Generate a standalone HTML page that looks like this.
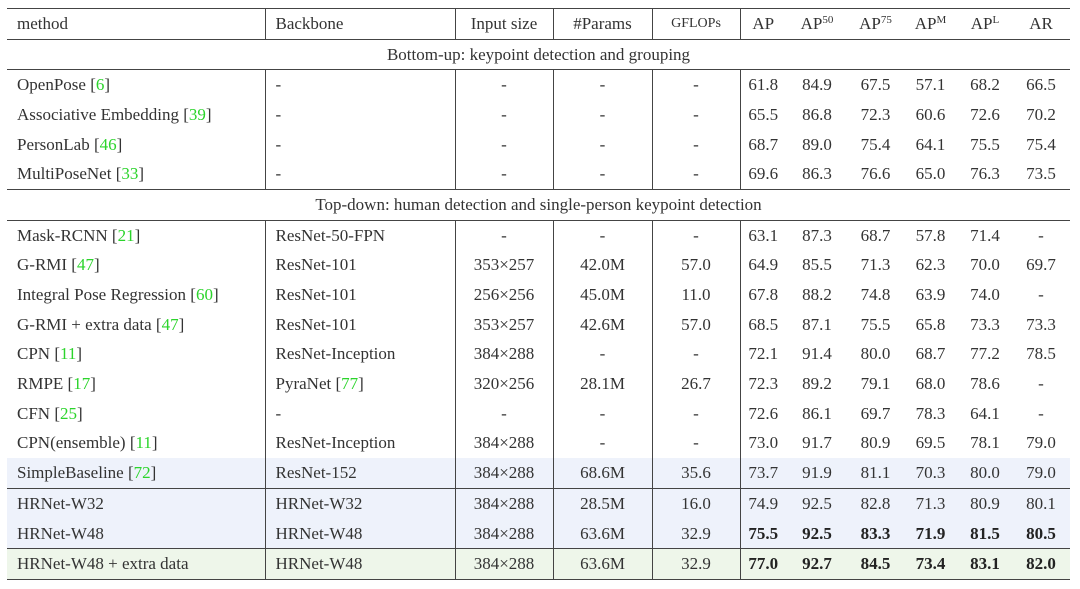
<!DOCTYPE html>
<html><head><meta charset="utf-8"><style>
html,body{margin:0;padding:0;background:#fff;width:1080px;height:589px;overflow:hidden}
table{position:absolute;left:7px;top:8px;border-collapse:collapse;table-layout:fixed;width:1063px;font-family:"Liberation Serif",serif;font-size:17px;color:#333}
td{height:29.7px;padding:0;text-align:center;white-space:nowrap;overflow:visible}
td.m{text-align:left;padding-left:10px}
td.b{text-align:left;padding-left:10px;border-left:1px solid #444}
td.v{border-left:1px solid #444}
tr.t td{border-top:1.5px solid #444}
tr.last td{border-bottom:1.5px solid #444}
g{color:#2bd42b}
tr.blue td{background:#eef2fb}
tr.green td{background:#eef6ea}
b{font-weight:bold;color:#222}
sup{font-size:11px;vertical-align:6px}
</style></head><body>
<table>
<colgroup><col style="width:258px"><col style="width:190px"><col style="width:98px"><col style="width:99px"><col style="width:88px"><col style="width:46px"><col style="width:62px"><col style="width:55px"><col style="width:55px"><col style="width:54px"><col style="width:58px"></colgroup>
<tr class="t"><td class="m">method</td><td class="b">Backbone</td><td class="v">Input size</td><td class="v">#Params</td><td class="v" style="font-size:14px">GFLOPs</td><td class="v">AP</td><td>AP<sup>50</sup></td><td>AP<sup>75</sup></td><td>AP<sup>M</sup></td><td>AP<sup>L</sup></td><td>AR</td></tr>
<tr class="t"><td colspan="11">Bottom-up: keypoint detection and grouping</td></tr>
<tr class="t"><td class="m">OpenPose [<g>6</g>]</td><td class="b">-</td><td class="v">-</td><td class="v">-</td><td class="v">-</td><td class="v">61.8</td><td>84.9</td><td>67.5</td><td>57.1</td><td>68.2</td><td>66.5</td></tr>
<tr><td class="m">Associative Embedding [<g>39</g>]</td><td class="b">-</td><td class="v">-</td><td class="v">-</td><td class="v">-</td><td class="v">65.5</td><td>86.8</td><td>72.3</td><td>60.6</td><td>72.6</td><td>70.2</td></tr>
<tr><td class="m">PersonLab [<g>46</g>]</td><td class="b">-</td><td class="v">-</td><td class="v">-</td><td class="v">-</td><td class="v">68.7</td><td>89.0</td><td>75.4</td><td>64.1</td><td>75.5</td><td>75.4</td></tr>
<tr><td class="m">MultiPoseNet [<g>33</g>]</td><td class="b">-</td><td class="v">-</td><td class="v">-</td><td class="v">-</td><td class="v">69.6</td><td>86.3</td><td>76.6</td><td>65.0</td><td>76.3</td><td>73.5</td></tr>
<tr class="t"><td colspan="11">Top-down: human detection and single-person keypoint detection</td></tr>
<tr class="t"><td class="m">Mask-RCNN [<g>21</g>]</td><td class="b">ResNet-50-FPN</td><td class="v">-</td><td class="v">-</td><td class="v">-</td><td class="v">63.1</td><td>87.3</td><td>68.7</td><td>57.8</td><td>71.4</td><td>-</td></tr>
<tr><td class="m">G-RMI [<g>47</g>]</td><td class="b">ResNet-101</td><td class="v">353×257</td><td class="v">42.0M</td><td class="v">57.0</td><td class="v">64.9</td><td>85.5</td><td>71.3</td><td>62.3</td><td>70.0</td><td>69.7</td></tr>
<tr><td class="m">Integral Pose Regression [<g>60</g>]</td><td class="b">ResNet-101</td><td class="v">256×256</td><td class="v">45.0M</td><td class="v">11.0</td><td class="v">67.8</td><td>88.2</td><td>74.8</td><td>63.9</td><td>74.0</td><td>-</td></tr>
<tr><td class="m">G-RMI + extra data [<g>47</g>]</td><td class="b">ResNet-101</td><td class="v">353×257</td><td class="v">42.6M</td><td class="v">57.0</td><td class="v">68.5</td><td>87.1</td><td>75.5</td><td>65.8</td><td>73.3</td><td>73.3</td></tr>
<tr><td class="m">CPN [<g>11</g>]</td><td class="b">ResNet-Inception</td><td class="v">384×288</td><td class="v">-</td><td class="v">-</td><td class="v">72.1</td><td>91.4</td><td>80.0</td><td>68.7</td><td>77.2</td><td>78.5</td></tr>
<tr><td class="m">RMPE [<g>17</g>]</td><td class="b">PyraNet [<g>77</g>]</td><td class="v">320×256</td><td class="v">28.1M</td><td class="v">26.7</td><td class="v">72.3</td><td>89.2</td><td>79.1</td><td>68.0</td><td>78.6</td><td>-</td></tr>
<tr><td class="m">CFN [<g>25</g>]</td><td class="b">-</td><td class="v">-</td><td class="v">-</td><td class="v">-</td><td class="v">72.6</td><td>86.1</td><td>69.7</td><td>78.3</td><td>64.1</td><td>-</td></tr>
<tr><td class="m">CPN(ensemble) [<g>11</g>]</td><td class="b">ResNet-Inception</td><td class="v">384×288</td><td class="v">-</td><td class="v">-</td><td class="v">73.0</td><td>91.7</td><td>80.9</td><td>69.5</td><td>78.1</td><td>79.0</td></tr>
<tr class="blue"><td class="m">SimpleBaseline [<g>72</g>]</td><td class="b">ResNet-152</td><td class="v">384×288</td><td class="v">68.6M</td><td class="v">35.6</td><td class="v">73.7</td><td>91.9</td><td>81.1</td><td>70.3</td><td>80.0</td><td>79.0</td></tr>
<tr class="blue t"><td class="m">HRNet-W32</td><td class="b">HRNet-W32</td><td class="v">384×288</td><td class="v">28.5M</td><td class="v">16.0</td><td class="v">74.9</td><td>92.5</td><td>82.8</td><td>71.3</td><td>80.9</td><td>80.1</td></tr>
<tr class="blue"><td class="m">HRNet-W48</td><td class="b">HRNet-W48</td><td class="v">384×288</td><td class="v">63.6M</td><td class="v">32.9</td><td class="v"><b>75.5</b></td><td><b>92.5</b></td><td><b>83.3</b></td><td><b>71.9</b></td><td><b>81.5</b></td><td><b>80.5</b></td></tr>
<tr class="green t last"><td class="m">HRNet-W48 + extra data</td><td class="b">HRNet-W48</td><td class="v">384×288</td><td class="v">63.6M</td><td class="v">32.9</td><td class="v"><b>77.0</b></td><td><b>92.7</b></td><td><b>84.5</b></td><td><b>73.4</b></td><td><b>83.1</b></td><td><b>82.0</b></td></tr>
</table>
</body></html>
